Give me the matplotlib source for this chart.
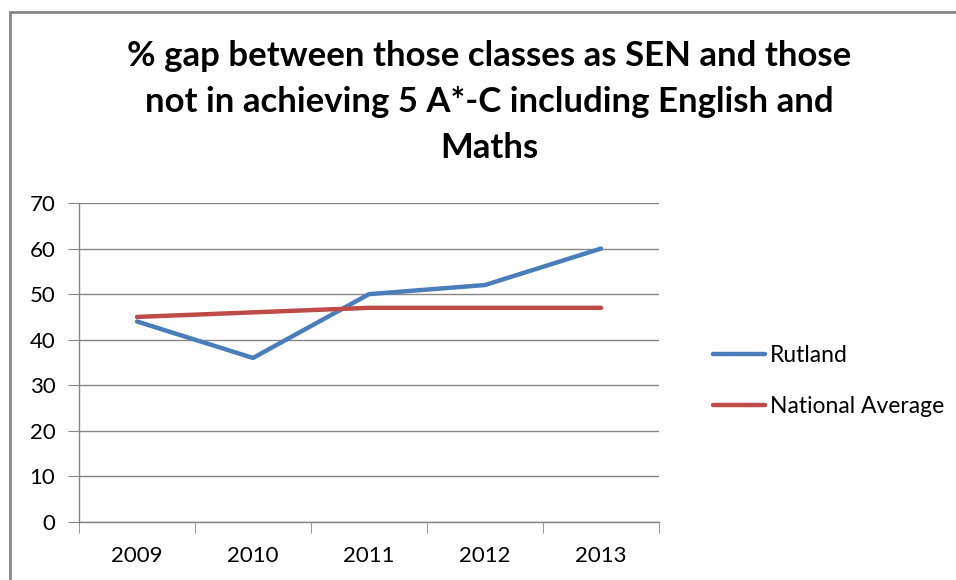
import matplotlib.pyplot as plt
from matplotlib.patches import Rectangle

years = ["2009", "2010", "2011", "2012", "2013"]
rutland = [44, 36, 50, 52, 60]
national = [45, 46, 47, 47, 47]
series_names = ["Rutland", "National Average"]
title = "% gap between those classes as SEN and those\nnot in achieving 5 A*-C including English and\nMaths"

plt.rcParams['font.family'] = ['Lato', 'DejaVu Sans']

fig = plt.figure(figsize=(9.56, 5.8), dpi=100)
# chart frame, right and bottom edges fall outside the picture
fig.patches.append(Rectangle((10 / 956, -0.1), 1.1, 1.0 - 12 / 580 + 0.1,
                             transform=fig.transFigure, fill=False,
                             edgecolor="#878787", linewidth=2))

ax = fig.add_axes([79 / 956, 1 - 522 / 580, 580 / 956, 319 / 580])

x = list(range(len(years)))
ax.plot(x, rutland, color="#4A7EBB", linewidth=3.2, label=series_names[0],
        solid_capstyle="round", solid_joinstyle="round")
ax.plot(x, national, color="#BE4B48", linewidth=3.2, label=series_names[1],
        solid_capstyle="round", solid_joinstyle="round")

ax.set_xlim(-0.5, len(years) - 0.5)
ax.set_ylim(0, 70)
ax.set_yticks(range(0, 71, 10))
ax.set_xticks(x)
ax.set_xticklabels(years)
ax.set_xticks([i - 0.5 for i in range(len(years) + 1)], minor=True)

ax.grid(axis="y", color="#868686", linewidth=1)
ax.set_axisbelow(True)
for side in ["top", "right"]:
    ax.spines[side].set_visible(False)
for side in ["left", "bottom"]:
    ax.spines[side].set_color("#868686")
    ax.spines[side].set_linewidth(1)

ax.tick_params(axis="y", which="major", length=8, color="#868686", labelsize=16,
               pad=9, labelcolor="#000000")
ax.tick_params(axis="x", which="major", length=0, labelsize=16, pad=17)
ax.tick_params(axis="x", which="minor", length=8, color="#868686")

fig.text(489 / 956, 1 - 102 / 580, title, ha="center", va="center",
         fontsize=25, fontweight="bold", linespacing=1.55)

ax.legend(loc="center left", bbox_to_anchor=(692 / 956, 1 - 381 / 580),
          bbox_transform=fig.transFigure, frameon=False, fontsize=16.5,
          handlelength=2.3, handletextpad=0.2, labelspacing=1.3)

fig.savefig("out.png", dpi=100)
